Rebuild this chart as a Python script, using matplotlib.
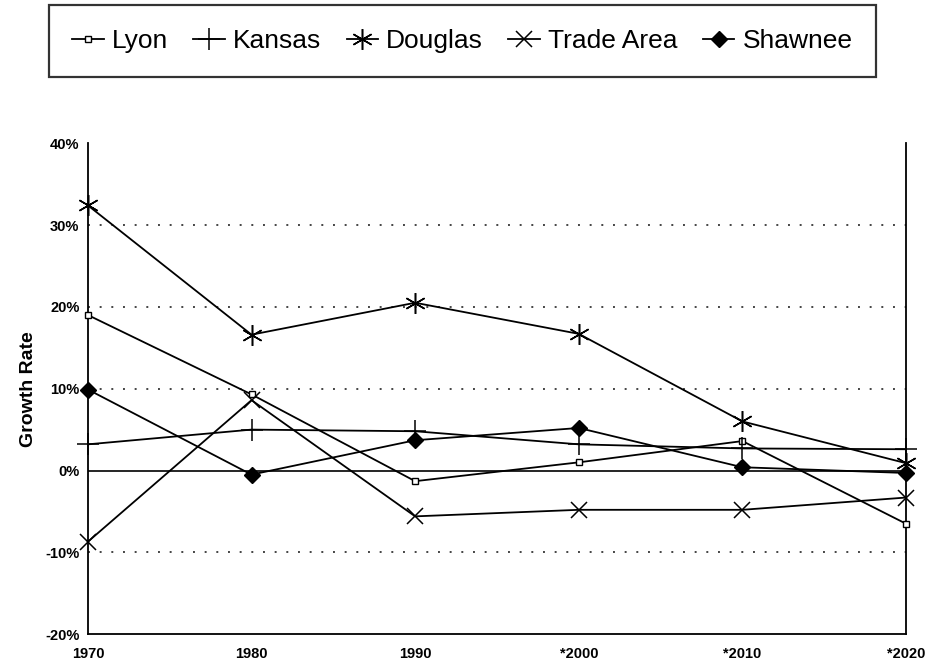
import matplotlib
matplotlib.use("Agg")
from matplotlib import pyplot as plt

# decades on the x axis (starred ones are projections)
years = [1970, 1980, 1990, 2000, 2010, 2020]
year_labels = ['1970', '1980', '1990', '*2000', '*2010', '*2020']

# growth rates in percent
lyon = [19.0, 9.3, -1.3, 1.0, 3.6, -6.5]
kansas = [3.2, 5.0, 4.8, 3.2, 2.7, 2.6]
douglas = [32.4, 16.6, 20.5, 16.7, 6.0, 0.9]
trade_area = [-8.7, 8.6, -5.6, -4.8, -4.8, -3.3]
shawnee = [9.9, -0.5, 3.7, 5.2, 0.4, -0.3]

y_ticks = [-20, -10, 0, 10, 20, 30, 40]
grid_levels = [-10, 10, 20, 30]

plt.rcParams['font.family'] = ['Liberation Sans', 'DejaVu Sans']

fig = plt.figure(figsize=(9.35, 6.69), dpi=100)
ax = fig.add_axes([0.094, 0.052, 0.875, 0.734])

for g in grid_levels:
    ax.axhline(g, color='#444444', lw=1.4, ls=(0, (1, 5)), zorder=1)
ax.axhline(0, color='black', lw=1.2, zorder=1)

kw = dict(color='black', lw=1.3, clip_on=False, zorder=3)
p1, = ax.plot(years, lyon, marker='s', ms=4, mfc='white', mec='black', mew=1.0, **kw)
p2, = ax.plot(years, kansas, marker='+', ms=16, mew=1.1, **kw)
p3, = ax.plot(years, douglas, marker=(6, 2, 0), ms=15, mew=1.1, **kw)
p4, = ax.plot(years, trade_area, marker='x', ms=12, mew=1.1, **kw)
p5, = ax.plot(years, shawnee, marker='D', ms=8, mfc='black', mec='black', **kw)

ax.set_xlim(1970, 2020)
ax.set_ylim(-20, 40)
ax.set_xticks(years)
ax.set_xticklabels(year_labels, fontsize=10.5, fontweight='bold')
ax.set_yticks(y_ticks)
ax.set_yticklabels(['%d%%' % v for v in y_ticks], fontsize=10.5, fontweight='bold')
ax.tick_params(axis='x', length=0, pad=9)
ax.tick_params(axis='y', length=0, pad=6)
ax.set_ylabel('Growth Rate', fontsize=14, fontweight='bold', labelpad=6)

ax.spines['top'].set_visible(False)
for s in ['left', 'right', 'bottom']:
    ax.spines[s].set_linewidth(1.3)

leg = fig.legend((p1, p2, p3, p4, p5), ('Lyon', 'Kansas', 'Douglas', 'Trade Area', 'Shawnee'),
                 loc='upper left', bbox_to_anchor=(0.052, 0.9925, 0.885, 0.0), mode='expand',
                 ncol=5, fontsize=19, frameon=True, fancybox=False, edgecolor='black',
                 handlelength=1.2, handletextpad=0.3, columnspacing=0.8, borderpad=0.9,
                 borderaxespad=0.0)
leg.get_frame().set_linewidth(1.6)

fig.savefig('out.png', dpi=100)
